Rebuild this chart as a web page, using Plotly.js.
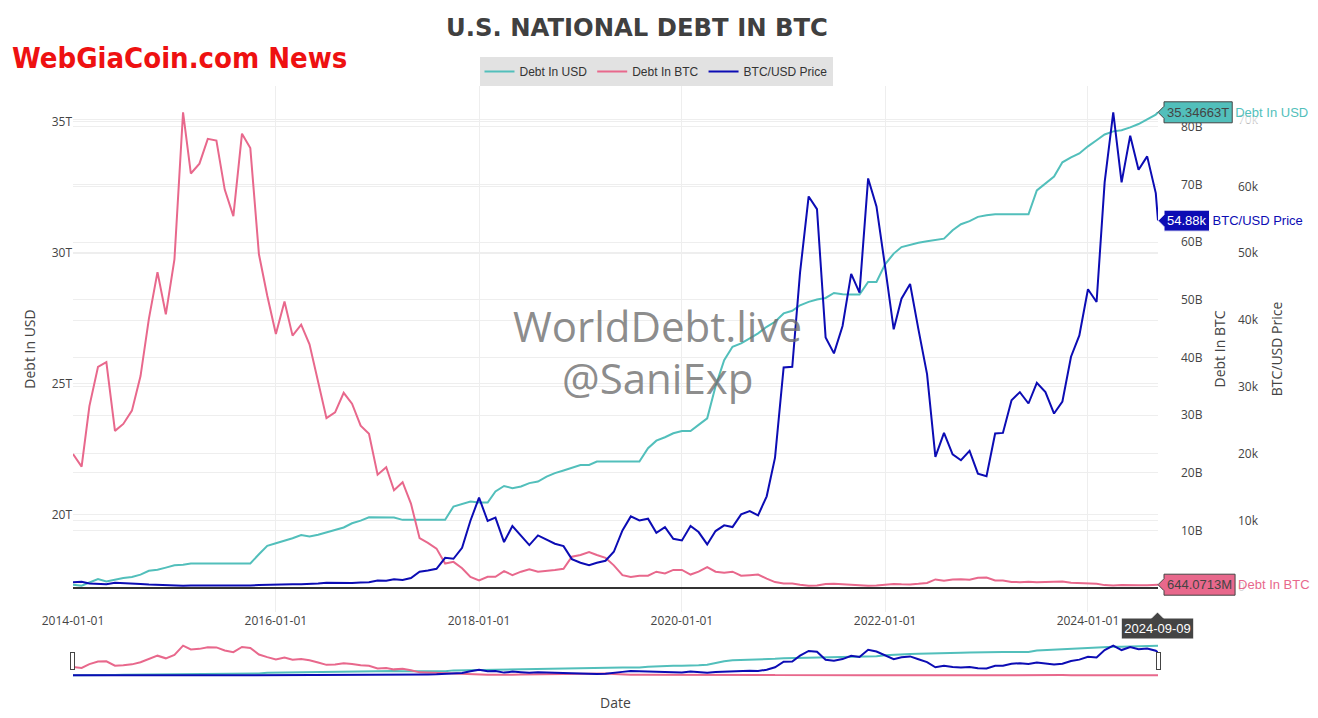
<!DOCTYPE html>
<html>
<head>
<meta charset="utf-8">
<script src="https://cdn.plot.ly/plotly-3.0.1.min.js"></script>
<style>html,body{margin:0;padding:0;background:#fff;}#chart{width:1318px;height:718px;}</style>
</head>
<body>
<div id="chart"></div>
<script>
const dates = [
 '2014-01-01','2014-02-01','2014-03-01','2014-04-01','2014-05-01','2014-06-01','2014-07-01','2014-08-01','2014-09-01','2014-10-01','2014-11-01','2014-12-01',
 '2015-01-01','2015-02-01','2015-03-01','2015-04-01','2015-05-01','2015-06-01','2015-07-01','2015-08-01','2015-09-01','2015-10-01','2015-11-01','2015-12-01',
 '2016-01-01','2016-02-01','2016-03-01','2016-04-01','2016-05-01','2016-06-01','2016-07-01','2016-08-01','2016-09-01','2016-10-01','2016-11-01','2016-12-01',
 '2017-01-01','2017-02-01','2017-03-01','2017-04-01','2017-05-01','2017-06-01','2017-07-01','2017-08-01','2017-09-01','2017-10-01','2017-11-01','2017-12-01',
 '2018-01-01','2018-02-01','2018-03-01','2018-04-01','2018-05-01','2018-06-01','2018-07-01','2018-08-01','2018-09-01','2018-10-01','2018-11-01','2018-12-01',
 '2019-01-01','2019-02-01','2019-03-01','2019-04-01','2019-05-01','2019-06-01','2019-07-01','2019-08-01','2019-09-01','2019-10-01','2019-11-01','2019-12-01',
 '2020-01-01','2020-02-01','2020-03-01','2020-04-01','2020-05-01','2020-06-01','2020-07-01','2020-08-01','2020-09-01','2020-10-01','2020-11-01','2020-12-01',
 '2021-01-01','2021-02-01','2021-03-01','2021-04-01','2021-05-01','2021-06-01','2021-07-01','2021-08-01','2021-09-01','2021-10-01','2021-11-01','2021-12-01',
 '2022-01-01','2022-02-01','2022-03-01','2022-04-01','2022-05-01','2022-06-01','2022-07-01','2022-08-01','2022-09-01','2022-10-01','2022-11-01','2022-12-01',
 '2023-01-01','2023-02-01','2023-03-01','2023-04-01','2023-05-01','2023-06-01','2023-07-01','2023-08-01','2023-09-01','2023-10-01','2023-11-01','2023-12-01',
 '2024-01-01','2024-02-01','2024-03-01','2024-04-01','2024-05-01','2024-06-01','2024-07-01','2024-08-01','2024-09-01','2024-09-09'
];

// Debt In USD, trillions
const debtUSD_T = [
 17.34,17.30,17.42,17.55,17.46,17.53,17.59,17.63,17.72,17.87,17.91,17.99,
 18.08,18.10,18.15,18.15,18.15,18.15,18.15,18.15,18.15,18.15,18.50,18.82,
 18.92,19.01,19.11,19.23,19.18,19.24,19.33,19.40,19.52,19.68,19.78,19.91,
 19.91,19.90,19.90,19.81,19.81,19.81,19.81,19.81,19.81,20.32,20.42,20.51,
 20.47,20.47,20.89,21.10,21.02,21.08,21.21,21.27,21.46,21.59,21.69,21.78,
 21.90,21.90,22.03,22.03,22.03,22.03,22.03,22.03,22.54,22.83,22.96,23.11,
 23.20,23.20,23.43,23.68,24.90,25.90,26.41,26.54,26.73,26.92,27.17,27.36,
 27.68,27.78,27.99,28.12,28.21,28.27,28.46,28.41,28.40,28.40,28.88,28.88,
 29.55,29.96,30.21,30.30,30.37,30.43,30.47,30.53,30.85,31.08,31.20,31.36,
 31.42,31.46,31.46,31.46,31.46,31.46,32.37,32.64,32.90,33.44,33.63,33.78,
 34.05,34.28,34.50,34.62,34.66,34.77,34.90,35.08,35.26,35.34663
];

// Debt In BTC, billions of BTC
const debtBTC_B = [
 23.3,21.1,31.6,38.4,39.2,27.3,28.5,30.8,36.8,46.7,54.8,47.5,
 57.0,82.5,71.9,73.6,77.9,77.6,69.1,64.5,78.8,76.3,57.9,50.7,
 44.1,49.7,43.8,45.7,42.3,36.0,29.5,30.5,33.9,32.0,28.2,26.8,
 19.7,21.0,17.0,18.4,14.7,8.7,7.9,6.9,4.3,4.6,3.5,2.0,
 1.4,2.0,2.0,3.0,2.3,2.9,3.3,2.9,3.0,3.2,3.4,5.5,
 5.8,6.3,5.8,5.3,4.0,2.3,2.0,2.2,2.2,2.9,2.6,3.2,
 3.2,2.4,2.9,3.7,2.9,2.7,2.9,2.2,2.3,2.4,1.7,1.1,
 0.85,0.83,0.62,0.48,0.50,0.76,0.81,0.73,0.60,0.65,0.47,0.51,
 0.62,0.78,0.70,0.67,0.79,0.95,1.56,1.32,1.55,1.60,1.52,1.84,
 1.89,1.37,1.36,1.13,1.08,1.15,1.06,1.12,1.26,1.20,0.97,0.90,
 0.76,0.80,0.57,0.49,0.58,0.51,0.56,0.54,0.60,0.6440713
];

// BTC/USD price, USD
const btcPrice = [
 744,820,551,457,445,642,617,572,482,383,327,379,
 317,219,252,247,233,234,263,281,230,238,319,371,
 429,382,436,421,453,534,655,636,576,615,701,743,
 1000,960,1180,1080,1380,2300,2500,2750,4400,4250,5900,9950,
 13400,9900,10400,6750,9150,7650,6300,7750,7150,6500,6150,4200,
 3650,3300,3650,3950,5300,8500,10600,10000,10250,8150,9000,7250,
 7000,9150,8250,6400,8400,9250,9000,10900,11400,10750,13600,19400,
 32900,33000,47100,58500,56600,37400,35000,39100,46900,44100,61200,57000,
 48000,38600,43200,45400,38600,31900,19500,23100,19900,19000,20400,17000,
 16600,23000,23100,28000,29200,27500,30600,29200,26000,27800,34500,37700,
 44600,42700,60600,71100,60600,67600,62500,64500,59000,54880
];

const seriesNames = ['Debt In USD','Debt In BTC','BTC/USD Price'];
const seriesColors = ['#52bfbb','#e8688c','#0c0cb4'];

const traces = [
 {x: dates, y: debtUSD_T.map(v => v * 1e12), name: seriesNames[0], type: 'scatter', mode: 'lines',
  line: {color: seriesColors[0], width: 2}, yaxis: 'y'},
 {x: dates, y: debtBTC_B.map(v => v * 1e9), name: seriesNames[1], type: 'scatter', mode: 'lines',
  line: {color: seriesColors[1], width: 2}, yaxis: 'y2'},
 {x: dates, y: btcPrice, name: seriesNames[2], type: 'scatter', mode: 'lines',
  line: {color: seriesColors[2], width: 2}, yaxis: 'y3'}
];

const W = 1318 - 73 - 30;
const TOP = 86, BOT = 613, H = BOT - TOP;
const layout = {
 width: 1318, height: 718,
 margin: {l: 73, r: 30, t: TOP, b: 41},
 paper_bgcolor: '#fff', plot_bgcolor: '#fff',
 font: {family: '"Open Sans", verdana, arial, sans-serif', size: 12, color: '#444'},
 title: {text: 'U.S. NATIONAL DEBT IN BTC', font: {family: 'DejaVu Sans', size: 24.3, color: '#404040', weight: 'bold'},
  xref: 'container', x: 0.4833, xanchor: 'center', yref: 'container', y: 0.962, yanchor: 'middle'},
 showlegend: true,
 legend: {orientation: 'h', xref: 'paper', yref: 'paper', x: (656 - 73) / W, xanchor: 'center',
  y: 1 + (TOP - 57) / H, yanchor: 'top',
  bgcolor: '#e2e2e2', font: {family: 'Liberation Sans, Arial, sans-serif', size: 12, color: '#333'}},
 hovermode: 'x',
 xaxis: {type: 'date', domain: [0, (1158 - 73) / W], tickformat: '%Y-%m-%d', hoverformat: '%Y-%m-%d',
  dtick: 'M24', tick0: '2014-01-01', gridcolor: '#eeeeee', zeroline: false, showline: false,
  title: {text: 'Date', font: {size: 14, color: '#444'}},
  rangeslider: {visible: true, thickness: 0.056, bgcolor: '#fff', borderwidth: 0}},
 yaxis: {title: {text: 'Debt In USD', font: {size: 14, color: '#444'}}, dtick: 5e12, gridcolor: '#eeeeee', zeroline: false},
 yaxis2: {title: {text: 'Debt In BTC', font: {size: 14, color: '#444'}}, overlaying: 'y', side: 'right', anchor: 'free',
  position: (1180 - 73) / W, dtick: 1e10, gridcolor: '#eeeeee', zeroline: true, zerolinecolor: '#333', zerolinewidth: 2},
 yaxis3: {title: {text: 'BTC/USD Price', font: {size: 14, color: '#444'}}, overlaying: 'y', side: 'right', anchor: 'free',
  position: (1237 - 73) / W, dtick: 1e4, gridcolor: '#eeeeee', zeroline: false},
 annotations: [
  {text: 'WebGiaCoin.com News', xref: 'paper', yref: 'paper', x: (10 - 73) / W, y: 1 + (TOP - 58) / H,
   xanchor: 'left', yanchor: 'middle', showarrow: false,
   font: {family: 'DejaVu Sans Condensed, DejaVu Sans', size: 29, color: '#ee1111', weight: 'bold'}},
  {text: 'WorldDebt.live', xref: 'paper', yref: 'paper', x: (657 - 73) / W, y: (BOT - 326) / H,
   xanchor: 'center', yanchor: 'middle', showarrow: false,
   font: {family: '"Open Sans", verdana, sans-serif', size: 42, color: 'rgba(110,110,110,0.8)'}},
  {text: '@SaniExp', xref: 'paper', yref: 'paper', x: (657 - 73) / W, y: (BOT - 378) / H,
   xanchor: 'center', yanchor: 'middle', showarrow: false,
   font: {family: '"Open Sans", verdana, sans-serif', size: 42, color: 'rgba(110,110,110,0.8)'}}
 ]
};

const gd = document.getElementById('chart');
Plotly.newPlot(gd, traces, layout, {displayModeBar: false, responsive: false}).then(function () {
 try {
  const xa = gd._fullLayout.xaxis;
  if (Plotly.Fx && Plotly.Fx.hover) {
   Plotly.Fx.hover(gd, {xpx: xa._length - 1, ypx: 200}, 'xy');
  }
 } catch (e) { console.log('hover failed', e); }
});
</script>
</body>
</html>
